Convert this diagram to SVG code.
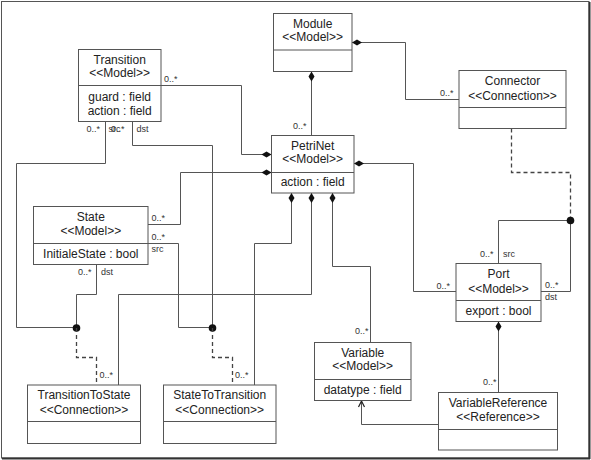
<svg xmlns="http://www.w3.org/2000/svg" width="591" height="460" viewBox="0 0 591 460">
<style>
.box{fill:#fff;stroke:#555;stroke-width:1}
.div{stroke:#555;stroke-width:1}
.t{font-family:"Liberation Sans",Arial,sans-serif;font-size:12px;fill:#222;text-anchor:middle}
.s{font-family:"Liberation Sans",Arial,sans-serif;font-size:9px;fill:#333}
.ln{fill:none;stroke:#555;stroke-width:1}
.dash{fill:none;stroke:#444;stroke-width:1.3;stroke-dasharray:4,3}
.dot{fill:#111}
</style>
<defs>
<marker id="dia" markerUnits="userSpaceOnUse" markerWidth="12" markerHeight="8" refX="0" refY="4" orient="auto" viewBox="0 0 12 8">
<path d="M0,4 L5,1 L10,4 L5,7 Z" fill="#111"/>
</marker>
<marker id="arr" markerUnits="userSpaceOnUse" markerWidth="10" markerHeight="10" refX="9" refY="5" orient="auto" viewBox="0 0 10 10">
<path d="M3,2 L9,5 L3,8" fill="none" stroke="#222" stroke-width="1.2"/>
</marker>
</defs>
<rect x="0" y="0" width="591" height="460" fill="#fff"/>
<rect x="1.5" y="1.5" width="587.5" height="456.5" fill="none" stroke="#555" stroke-width="1"/>
<line x1="589.5" y1="2" x2="589.5" y2="459" stroke="#333" stroke-width="2"/>
<line x1="2" y1="458.5" x2="590" y2="458.5" stroke="#333" stroke-width="2"/>

<g id="connectors">
<path class="ln" marker-start="url(#dia)" d="M311.5,71.5 V135"/>
<path class="ln" marker-start="url(#dia)" d="M352,42.5 H405.5 V99.5 H459"/>
<path class="ln" marker-start="url(#dia)" d="M271.5,154.5 H241.5 V85.5 H161"/>
<path class="ln" marker-start="url(#dia)" d="M271.5,172.5 H180.5 V224.5 H148"/>
<path class="ln" marker-start="url(#dia)" d="M354,163.5 H413.5 V291.5 H456"/>
<path class="ln" marker-start="url(#dia)" d="M291.5,193 V243.5 H254.5 V385"/>
<path class="ln" marker-start="url(#dia)" d="M311.5,193 V294.5 H118.5 V385"/>
<path class="ln" marker-start="url(#dia)" d="M332.5,193 V266.5 H370.5 V342.5"/>
<path class="ln" marker-start="url(#dia)" d="M498.5,321.5 V392.5"/>
<path class="ln" marker-end="url(#arr)" d="M438,424.5 H361.5 V401"/>
<path class="dash" d="M511.5,128.5 V172.5 H570.5 V221"/>
<path class="ln" d="M498.5,263 V220.5 H570.5 V291.5 H541"/>
<circle class="dot" cx="570.5" cy="220.5" r="3.8"/>
<path class="ln" d="M105.5,121.5 V163.5 H16.5 V327.5 H76.5"/>
<path class="ln" d="M96.5,264.5 V294.5 H76.5 V328"/>
<circle class="dot" cx="76.5" cy="328" r="3.8"/>
<path class="dash" d="M76.5,328 V357.5 H96.5 V385"/>
<path class="ln" d="M132.5,121.5 V145.5 H212.5 V328"/>
<path class="ln" d="M148,243.5 H178.5 V327.5 H212.5"/>
<circle class="dot" cx="212.5" cy="328" r="3.8"/>
<path class="dash" d="M212.5,328 V357.5 H232.5 V385"/>
<text class="s" x="293" y="129">0..*</text>
<text class="s" x="440" y="96">0..*</text>
<text class="s" x="164" y="82">0..*</text>
<text class="s" x="151.5" y="221">0..*</text>
<text class="s" x="151.5" y="240">0..*</text>
<text class="s" x="151.5" y="252">src</text>
<text class="s" x="436.5" y="289">0..*</text>
<text class="s" x="355" y="334">0..*</text>
<text class="s" x="483" y="385">0..*</text>
<text class="s" x="480" y="257">0..*</text>
<text class="s" x="503" y="257">src</text>
<text class="s" x="545" y="288">0..*</text>
<text class="s" x="545" y="300">dst</text>
<text class="s" x="86.5" y="132">0..*</text>
<text class="s" x="108.5" y="132">src</text>
<text class="s" x="111" y="132">0..*</text>
<text class="s" x="136.5" y="132">dst</text>
<text class="s" x="78" y="274.5">0..*</text>
<text class="s" x="101" y="274.5">dst</text>
<text class="s" x="99.5" y="378">0..*</text>
<text class="s" x="235" y="378">0..*</text>
</g>

<g id="Module">
<rect class="box" x="273.5" y="13.5" width="78.5" height="58"/>
<line class="div" x1="273.5" y1="50" x2="352" y2="50"/>
<text class="t" x="312.7" y="27.5">Module</text>
<text class="t" x="312.7" y="41">&lt;&lt;Model&gt;&gt;</text>
</g>
<g id="Transition">
<rect class="box" x="78.5" y="49.5" width="82.5" height="72"/>
<line class="div" x1="78.5" y1="85.5" x2="161" y2="85.5"/>
<text class="t" x="119.7" y="63.5">Transition</text>
<text class="t" x="119.7" y="77">&lt;&lt;Model&gt;&gt;</text>
<text class="t" x="119.7" y="100.5">guard : field</text>
<text class="t" x="119.7" y="114.5">action : field</text>
</g>
<g id="PetriNet">
<rect class="box" x="271.5" y="135.5" width="82.5" height="57.5"/>
<line class="div" x1="271.5" y1="172.5" x2="354" y2="172.5"/>
<text class="t" x="312.7" y="149.5">PetriNet</text>
<text class="t" x="312.7" y="162.5">&lt;&lt;Model&gt;&gt;</text>
<text class="t" x="312.7" y="186">action : field</text>
</g>
<g id="Connector">
<rect class="box" x="459" y="70.5" width="107" height="58"/>
<line class="div" x1="459" y1="107.5" x2="566" y2="107.5"/>
<text class="t" x="512.5" y="85">Connector</text>
<text class="t" x="512.5" y="99.5">&lt;&lt;Connection&gt;&gt;</text>
</g>
<g id="State">
<rect class="box" x="33.5" y="206.5" width="114.5" height="58"/>
<line class="div" x1="33.5" y1="243.5" x2="148" y2="243.5"/>
<text class="t" x="90.8" y="221">State</text>
<text class="t" x="90.8" y="235">&lt;&lt;Model&gt;&gt;</text>
<text class="t" x="90.8" y="257.5">InitialeState : bool</text>
</g>
<g id="Port">
<rect class="box" x="456" y="263.5" width="85" height="58"/>
<line class="div" x1="456" y1="300.5" x2="541" y2="300.5"/>
<text class="t" x="498.5" y="277.5">Port</text>
<text class="t" x="498.5" y="292.5">&lt;&lt;Model&gt;&gt;</text>
<text class="t" x="498.5" y="314.5">export : bool</text>
</g>
<g id="Variable">
<rect class="box" x="314.5" y="342.5" width="96.5" height="58"/>
<line class="div" x1="314.5" y1="379.5" x2="411" y2="379.5"/>
<text class="t" x="362.7" y="357">Variable</text>
<text class="t" x="362.7" y="370">&lt;&lt;Model&gt;&gt;</text>
<text class="t" x="362.7" y="393.5">datatype : field</text>
</g>
<g id="TransitionToState">
<rect class="box" x="27.5" y="385" width="113" height="58.5"/>
<line class="div" x1="27.5" y1="421.5" x2="140.5" y2="421.5"/>
<text class="t" x="84" y="399">TransitionToState</text>
<text class="t" x="84" y="414">&lt;&lt;Connection&gt;&gt;</text>
</g>
<g id="StateToTransition">
<rect class="box" x="163.5" y="385" width="112.5" height="58.5"/>
<line class="div" x1="163.5" y1="421.5" x2="276" y2="421.5"/>
<text class="t" x="219.7" y="399">StateToTransition</text>
<text class="t" x="219.7" y="414">&lt;&lt;Connection&gt;&gt;</text>
</g>
<g id="VariableReference">
<rect class="box" x="438.5" y="392.5" width="119" height="57.5"/>
<line class="div" x1="438.5" y1="429.5" x2="557.5" y2="429.5"/>
<text class="t" x="498" y="406.5">VariableReference</text>
<text class="t" x="498" y="421">&lt;&lt;Reference&gt;&gt;</text>
</g>
</svg>
